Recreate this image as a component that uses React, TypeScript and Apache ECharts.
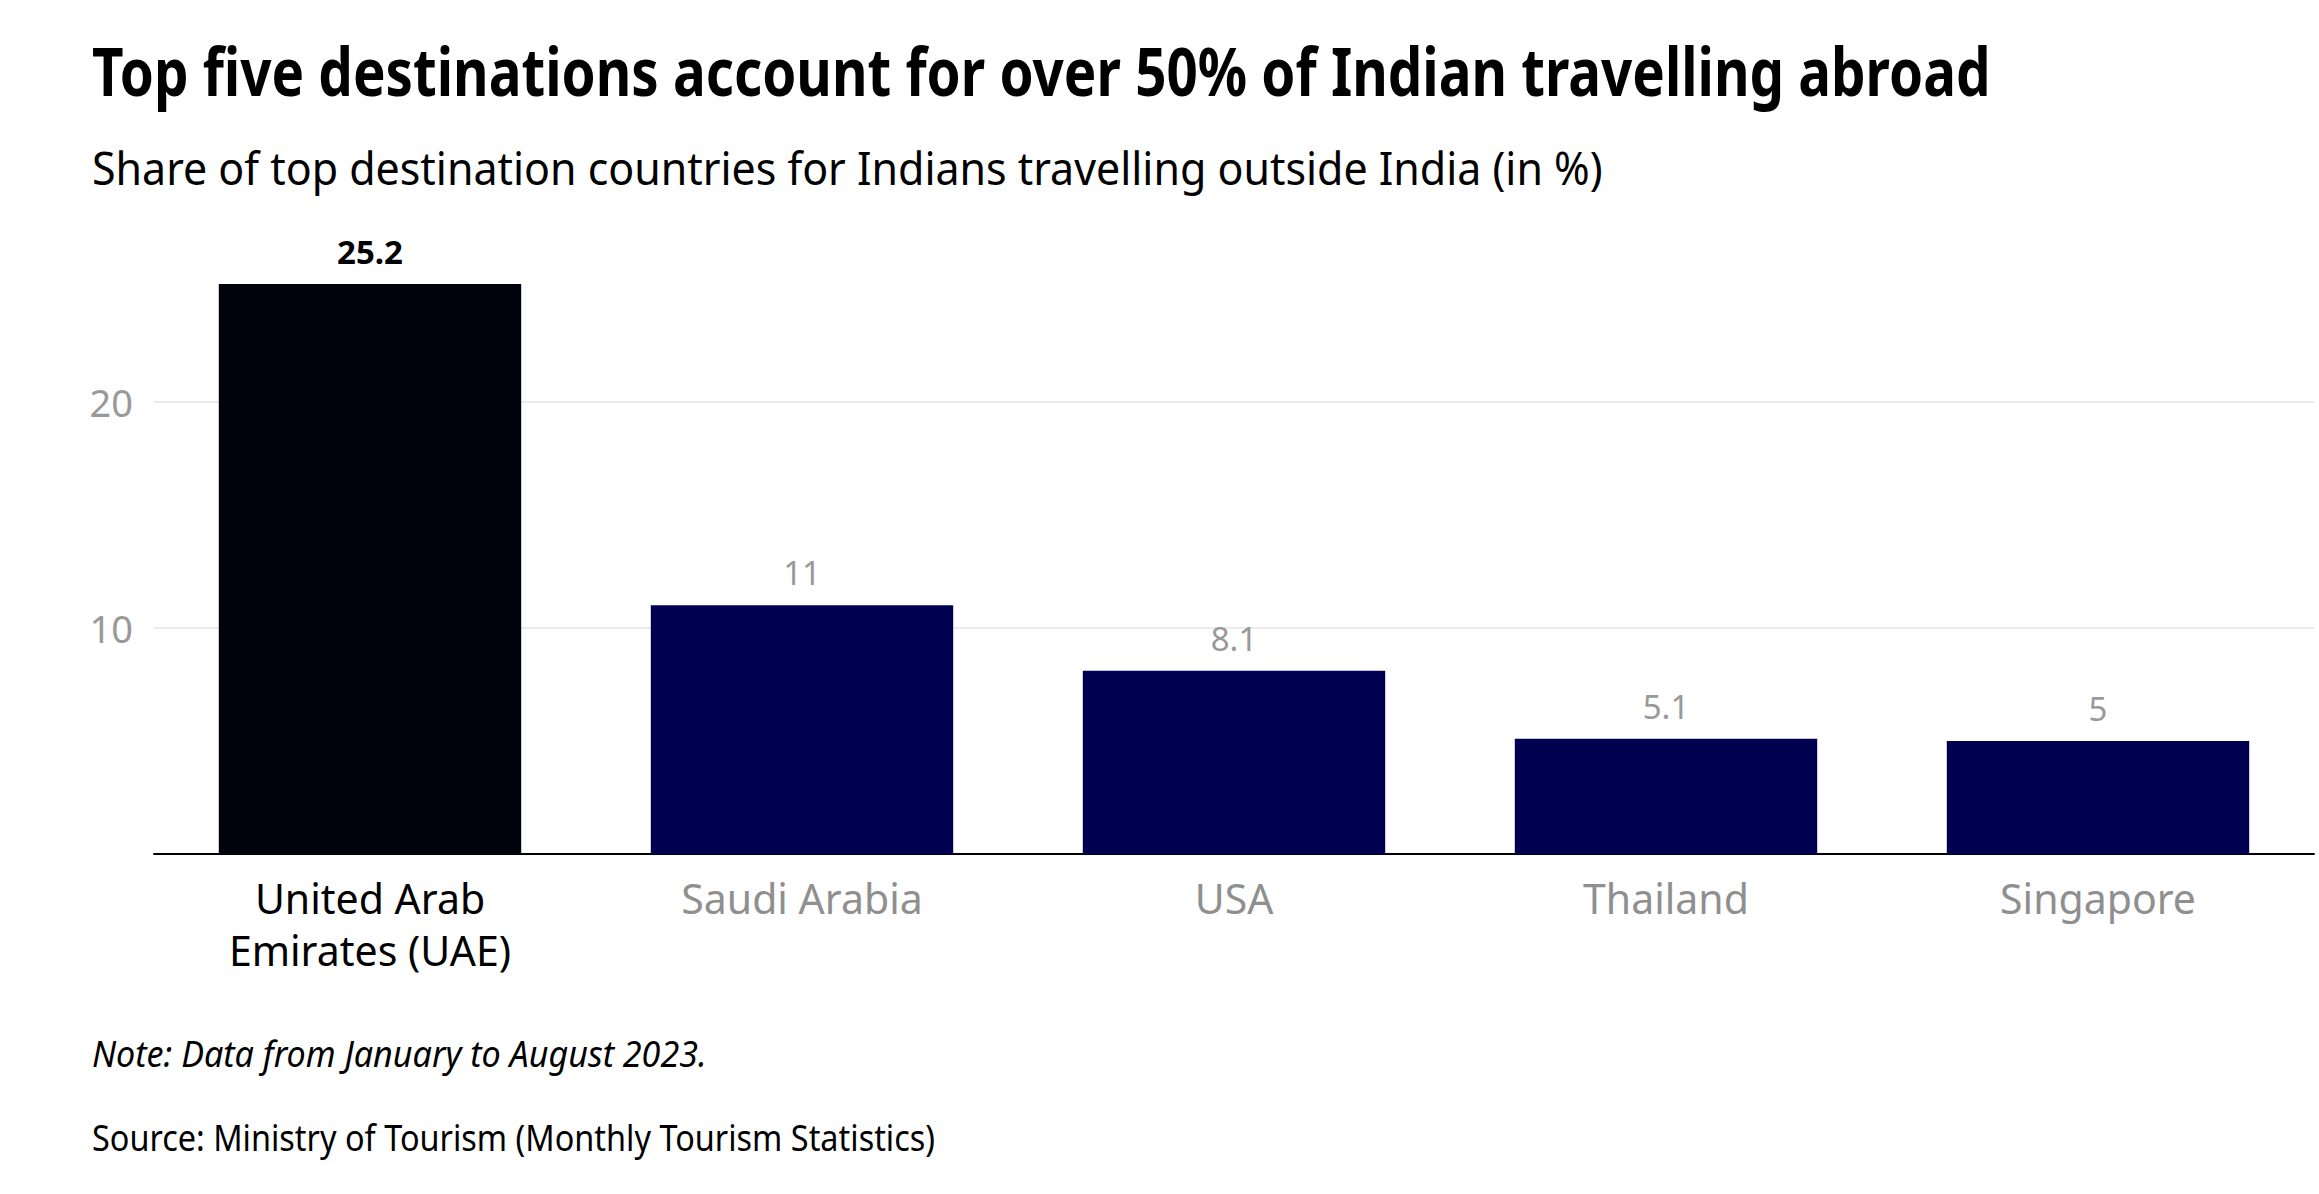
import React, { useEffect, useRef } from "react";
import * as echarts from "echarts";

const categories = [
  "United Arab\nEmirates (UAE)",
  "Saudi Arabia",
  "USA",
  "Thailand",
  "Singapore",
];
const shares = [25.2, 11, 8.1, 5.1, 5];
const highlightIndex = 0;
const yMin = 0;
const yMax = 26;
const yInterval = 10;

const titleText = "Top five destinations account for over 50% of Indian travelling abroad";
const subtitleText = "Share of top destination countries for Indians travelling outside India (in %)";
const noteText = "Note: Data from January to August 2023.";
const sourceText = "Source: Ministry of Tourism (Monthly Tourism Statistics)";

const W = 2319;
const H = 1194;
const FONT = "'Noto Sans', 'Open Sans', Roboto, sans-serif";

function measure(text: string, font: string): number {
  const c = document.createElement("canvas");
  const ctx = c.getContext("2d");
  if (!ctx) return 1;
  ctx.font = font;
  return ctx.measureText(text).width || 1;
}

function fitText(
  text: string,
  x: number,
  y: number,
  targetWidth: number,
  fontSize: number,
  fontWeight: string,
  fontStyle: string,
  color: string
) {
  const fontStr = `${fontStyle} ${fontWeight} ${fontSize}px 'Noto Sans'`;
  const w = measure(text, fontStr);
  const sx = Math.min(1.2, targetWidth / w);
  return {
    type: "text",
    x,
    y,
    scaleX: sx,
    scaleY: 1,
    silent: true,
    style: {
      text,
      x: 0,
      y: 0,
      fill: color,
      fontSize,
      fontWeight,
      fontStyle,
      fontFamily: FONT,
      align: "left",
      verticalAlign: "middle",
      textAlign: "left",
      textVerticalAlign: "middle",
    },
  };
}

export default function App() {
  const ref = useRef<HTMLDivElement>(null);

  useEffect(() => {
    if (!ref.current) return;
    const chart = echarts.init(ref.current, null, { renderer: "svg" });

    const data = shares.map((v, i) => ({
      value: v,
      itemStyle: { color: i === highlightIndex ? "#01030c" : "#000050" },
      label: {
        color: i === highlightIndex ? "#000000" : "#999999",
        fontWeight: i === highlightIndex ? "bold" : "normal",
      },
    }));

    chart.setOption({
      animation: false,
      backgroundColor: "#ffffff",
      grid: { left: 154, right: 5, top: 266, bottom: 340, containLabel: false },
      xAxis: {
        type: "category",
        data: categories,
        axisLine: { show: true, lineStyle: { color: "#000000", width: 2 } },
        axisTick: { show: false },
        axisLabel: {
          margin: 18,
          fontSize: 41,
          lineHeight: 52,
          fontFamily: FONT,
          color: (_v: string, idx: number) => (idx === highlightIndex ? "#000000" : "#8f8f8f"),
        },
      },
      yAxis: {
        type: "value",
        min: yMin,
        max: yMax,
        interval: yInterval,
        axisLine: { show: false },
        axisTick: { show: false },
        axisLabel: {
          showMinLabel: false,
          showMaxLabel: false,
          margin: 21,
          fontSize: 38,
          fontFamily: FONT,
          color: "#999999",
        },
        splitLine: {
          show: true,
          showMinLine: false,
          showMaxLine: false,
          lineStyle: { color: "#ebebeb", width: 2 },
        },
      },
      series: [
        {
          type: "bar",
          data,
          barCategoryGap: "30%",
          label: {
            show: true,
            position: "top",
            distance: 16,
            fontSize: 33,
            fontFamily: FONT,
          },
        },
      ],
      graphic: [
        fitText(titleText, 92, 70, 1898, 66, "bold", "normal", "#000000"),
        fitText(subtitleText, 92, 167, 1511, 46, "normal", "normal", "#000000"),
        fitText(noteText, 92, 1053, 615, 36, "normal", "italic", "#000000"),
        fitText(sourceText, 92, 1137, 843, 36, "normal", "normal", "#000000"),
      ],
    });

    return () => chart.dispose();
  }, []);

  return (
    <div
      ref={ref}
      style={{ position: "fixed", left: 0, top: 0, width: W, height: H, background: "#fff" }}
    />
  );
}
